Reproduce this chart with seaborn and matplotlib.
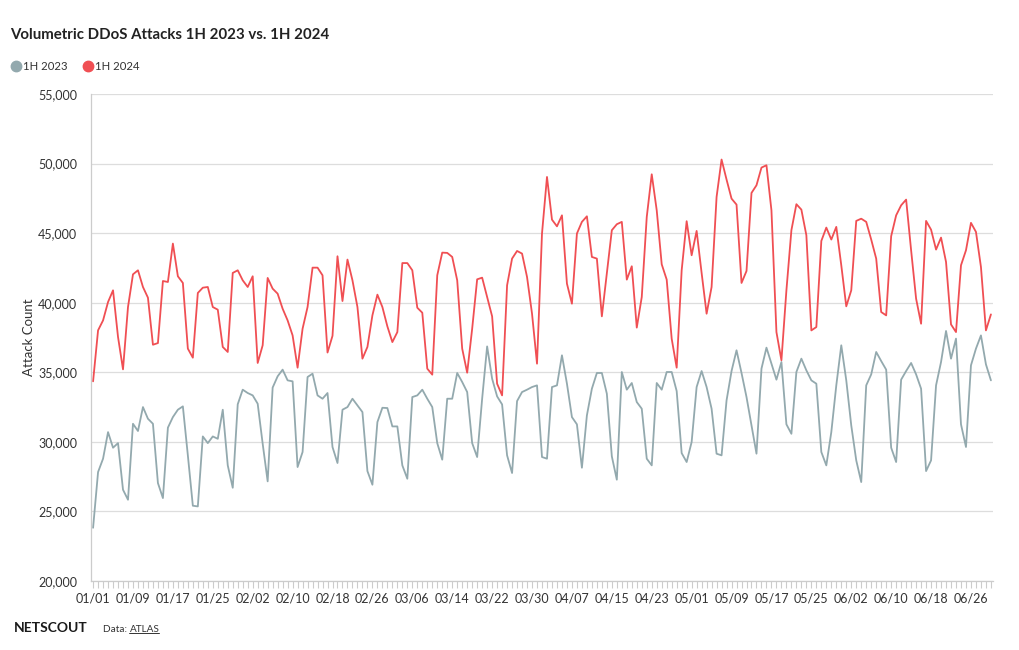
import numpy as np
import pandas as pd
import matplotlib
matplotlib.use("Agg")
import matplotlib.pyplot as plt
import matplotlib.dates as mdates
from matplotlib.lines import Line2D
from matplotlib.ticker import FuncFormatter
import seaborn as sns

# ---------------- data ----------------
series_names = ["1H 2023", "1H 2024"]

# daily values on a month/day axis (01/01 .. 06/30, no 02/29)
attacks_2024 = [
    34350, 38015, 38730, 40050, 40890, 37540, 35210, 39690, 42040, 42330,
    41130, 40360, 36980, 37100, 41560, 41490, 44250, 41900, 41420, 36700,
    36050, 40700, 41080, 41130, 39690, 39500, 36820, 36460, 42140, 42330,
    41610, 41130, 41900, 35670, 36940, 41780, 41010, 40650, 39570, 38730,
    37650, 35330, 38130, 39690, 42520, 42520, 41970, 36420, 37620, 43340,
    40120, 43100, 41610, 39690, 35980, 36820, 39090, 40580, 39690, 38300,
    37170, 37890, 42850, 42850, 42330, 39640, 39280, 35260, 34830,
    41970, 43600, 43580, 43290, 41610, 36700, 34970, 38130, 41680, 41800,
    40410, 39020, 34180, 33340, 41250, 43170, 43720, 43530, 41850, 39210,
    35620, 44970, 49040, 45970, 45490, 46280, 41370, 39930, 44970, 45810,
    46210, 43290, 43170, 39020, 42090, 45210, 45640, 45810, 41660, 42620,
    38210, 40410, 46160, 49230, 46640, 42760, 41660, 37410, 35330, 42330,
    45860, 43410, 45160, 42140, 39210, 41130, 47600, 50290, 48850, 47480,
    47050, 41420, 42280, 47890, 48440, 49710, 49880, 46640, 37890, 35860,
    40890, 45210, 47080, 46690, 44850, 38010, 38250, 44440, 45400, 44540,
    45450, 42690, 39740, 40890, 45880, 46040, 45810, 44540, 43170, 39330,
    39090, 44780, 46280, 47000, 47410, 43770, 40290, 38490, 45880, 45250,
    43820, 44680, 42930, 38440, 37890, 42690, 43770, 45740, 45090, 42570,
    38010, 39160,
]

attacks_2023 = [
    23825, 27830, 28790, 30700, 29580, 29910, 26560, 25840, 31300, 30780,
    32500, 31660, 31300, 27040, 25960, 31020, 31780, 32310, 32550, 29030,
    25410, 25360, 30390, 29910, 30390, 30220, 32310, 28310, 26700, 32700,
    33750, 33510, 33340, 32740, 29870, 27160, 33900, 34710, 35190, 34420,
    34350, 28190, 29270, 34660, 34900, 33340, 33100, 33510, 29630, 28480,
    32310, 32500, 33100, 32620, 32140, 27900, 26920, 31420, 32450,
    32430, 31110, 31110, 28310, 27350, 33220, 33340, 33750, 33100, 32500,
    29910, 28720, 33100, 33100, 34950, 34300, 33580, 29910, 28910, 33100,
    36860, 34540, 33270, 32690, 29030, 27760, 32930, 33580, 33750, 33940,
    34060, 28910, 28790, 33940, 34060, 36220, 34180, 31780, 31260, 28140,
    31900, 33820, 34950, 34950, 33460, 28960, 27280, 35020, 33750, 34230,
    32860, 32380, 28790, 28310, 34230, 33750, 35020, 35020, 33650, 29190,
    28550, 29990, 33940, 35090, 33940, 32380, 29150, 29030, 32980, 35090,
    36580, 34950, 33220, 31180, 29150, 35260, 36770, 35620, 34470, 35740,
    31260, 30580, 35020, 35980, 35140, 34420, 34180, 29270, 28310, 30700,
    34060, 36940, 34420, 31180, 28670, 27110, 34060, 34850, 36460, 35810,
    35190, 29580, 28550, 34470, 35090, 35670, 34850, 33820, 27900, 28670,
    34060, 35740, 37970, 35980, 37420, 31260, 29630, 35500, 36700, 37650,
    35570, 34420,
]

y_ticks = [20000, 25000, 30000, 35000, 40000, 45000, 50000, 55000]

# month/day axis (non-leap calendar: 01/01 .. 06/30)
days = pd.date_range("2023-01-01", "2023-06-30", freq="D")

df = pd.concat([
    pd.DataFrame({"date": days, "attacks": attacks_2023, "series": series_names[0]}),
    pd.DataFrame({"date": days, "attacks": attacks_2024, "series": series_names[1]}),
], ignore_index=True)

# ---------------- style ----------------
sns.set_theme(style="white")
FONT = ["Lato", "DejaVu Sans"]
plt.rcParams["font.family"] = FONT

C23 = "#93a9ae"
C24 = "#f04f53"
palette = {series_names[0]: C23, series_names[1]: C24}
TXT = "#333333"
GRID = "#dddddd"

fig = plt.figure(figsize=(10.2, 6.5), dpi=100)
W, H = 1020, 650
ax = fig.add_axes([91 / W, 1 - 581 / H, (993 - 91) / W, (581 - 94) / H])

sns.lineplot(data=df, x="date", y="attacks", hue="series", palette=palette,
             linewidth=1.3, legend=False, ax=ax, estimator=None)

ax.set_ylim(20000, 55000)
ax.set_xlim(days[0] - pd.Timedelta(hours=10), days[-1] + pd.Timedelta(hours=10))
ax.set_yticks(y_ticks)
ax.yaxis.set_major_formatter(FuncFormatter(lambda v, p: f"{int(v):,}"))
ax.grid(axis="y", color=GRID, linewidth=0.9)
ax.grid(axis="x", visible=False)
ax.set_axisbelow(True)

major_days = days[::8]
ax.set_xticks(major_days)
ax.set_xticklabels([d.strftime("%m/%d") for d in major_days])
ax.xaxis.set_minor_locator(mdates.DayLocator())

for s in ["top", "right"]:
    ax.spines[s].set_visible(False)
ax.spines["left"].set_color("#cccccc")
ax.spines["bottom"].set_color("#cccccc")
ax.spines["left"].set_linewidth(0.9)
ax.spines["bottom"].set_linewidth(0.9)

ax.tick_params(axis="x", which="both", direction="out", length=5, width=0.8,
               color="#cccccc", labelsize=9, labelcolor=TXT, pad=3, bottom=True)
ax.tick_params(axis="y", which="major", direction="out", length=0, labelsize=9,
               labelcolor=TXT, pad=10, left=True)
ax.set_xlabel("")
ax.set_ylabel("Attack Count", fontsize=9.5, color=TXT)
ax.yaxis.set_label_coords((35 - 91) / (993 - 91), 0.5)

# title
fig.text(10 / W, 1 - 35 / H, "Volumetric DDoS Attacks 1H 2023 vs. 1H 2024",
         fontsize=10.8, fontweight="bold", color="#222222", va="center", ha="left")

# legend
handles = [Line2D([0], [0], marker="o", linestyle="none", markersize=7.5,
                  markerfacecolor=palette[n], markeredgecolor=palette[n], label=n)
           for n in series_names]
fig.legend(handles=handles, loc="center left", bbox_to_anchor=(6 / W, 1 - 66 / H),
           ncol=2, frameon=False, fontsize=8.2, handletextpad=0.1, columnspacing=1.3,
           labelcolor=TXT, borderaxespad=0, handlelength=1.0)

# footer
fig.text(14 / W, 1 - 628 / H, "NETSCOUT", fontsize=10, fontweight="bold",
         color="#1a1a1a", va="center", ha="left")
t1 = fig.text(103 / W, 1 - 629 / H, "Data: ", fontsize=7.2, color=TXT, va="center", ha="left")
fig.canvas.draw()
r = fig.canvas.get_renderer()
bb = t1.get_window_extent(r)
t2 = fig.text(bb.x1 / W, 1 - 629 / H, "ATLAS", fontsize=7.2, color=TXT, va="center", ha="left")
fig.canvas.draw()
bb2 = t2.get_window_extent(r)
fig.add_artist(Line2D([bb2.x0 / W, bb2.x1 / W], [(bb2.y0 + 0.5) / H] * 2,
                      color=TXT, linewidth=0.7))

fig.savefig("out.png", dpi=100)
